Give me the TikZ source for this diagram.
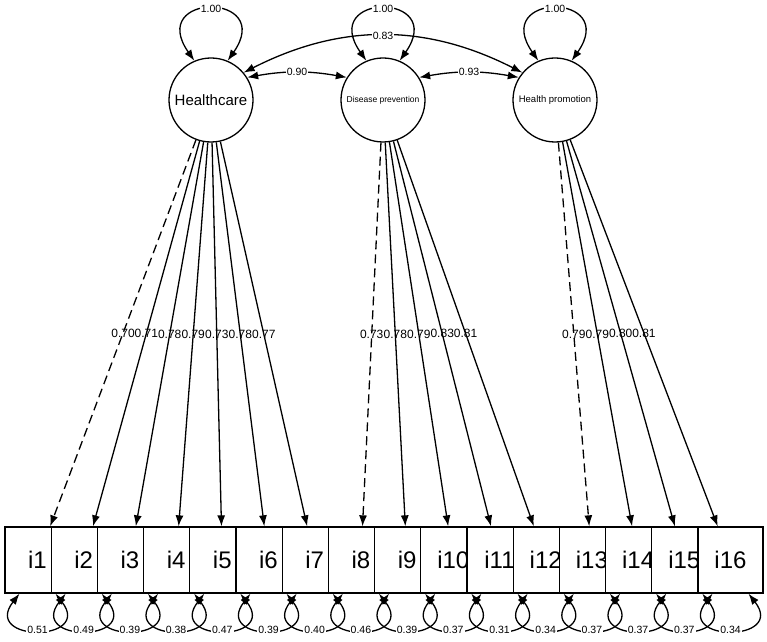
\documentclass[tikz,border=0pt]{standalone}
\usepackage{fontspec}
\setmainfont{Liberation Sans}
\usetikzlibrary{arrows.meta}

\begin{document}
\begin{tikzpicture}[x=1pt,y=1pt,line width=1.3pt,>={Latex[length=11pt,width=8pt]},
    latente/.style={draw,circle,minimum size=84pt,inner sep=0pt},
    item/.style={draw,fill=white,minimum width=65pt,minimum height=66pt,inner sep=0pt,font=\fontsize{24}{24}\selectfont},
    carga/.style={inner sep=0pt,font=\fontsize{12}{12}\selectfont},
    valor/.style={fill=white,inner sep=1pt,font=\fontsize{10.5}{10.5}\selectfont},
    tracejado/.style={dash pattern=on 9pt off 5pt}]
    \useasboundingbox (0,0) rectangle (767,641);

    % Fatores latentes
    \node[latente,font=\fontsize{15}{15}\selectfont] (hc) at (211,541) {Healthcare};
    \node[latente,font=\fontsize{8.5}{8.5}\selectfont] (dp) at (383,541) {Disease prevention};
    \node[latente,font=\fontsize{9.5}{9.5}\selectfont] (hp) at (555,541) {Health promotion};

    % Itens
    \foreach \k in {1,...,16}
        \node[item] (i\k) at ({37.5+46.2*(\k-1)},81) {i\k};

    % Variancias dos fatores
    \draw[<->] (hc.113) .. controls +(125:84) and +(55:84) .. node[valor]{1.00} (hc.67);
    \draw[<->] (dp.113) .. controls +(125:84) and +(55:84) .. node[valor]{1.00} (dp.67);
    \draw[<->] (hp.113) .. controls +(125:84) and +(55:84) .. node[valor]{1.00} (hp.67);

    % Covariancias
    \draw[<->] (hc.40) to[bend left=27] node[valor]{0.83} (hp.140);
    \draw[<->] (hc.32) to[bend left=10] node[valor]{0.90} (dp.148);
    \draw[<->] (dp.32) to[bend left=10] node[valor]{0.93} (hp.148);

    % Cargas - Healthcare
    \draw[->,tracejado] (hc) -- node[carga]{0.70} (i1);
    \draw[->] (hc) -- node[carga]{0.71} (i2);
    \draw[->] (hc) -- node[carga]{0.78} (i3);
    \draw[->] (hc) -- node[carga]{0.79} (i4);
    \draw[->] (hc) -- node[carga]{0.73} (i5);
    \draw[->] (hc) -- node[carga]{0.78} (i6);
    \draw[->] (hc) -- node[carga]{0.77} (i7);
    % Cargas - Disease prevention
    \draw[->,tracejado] (dp) -- node[carga]{0.73} (i8);
    \draw[->] (dp) -- node[carga]{0.78} (i9);
    \draw[->] (dp) -- node[carga]{0.79} (i10);
    \draw[->] (dp) -- node[carga]{0.83} (i11);
    \draw[->] (dp) -- node[carga]{0.81} (i12);
    % Cargas - Health promotion
    \draw[->,tracejado] (hp) -- node[carga]{0.79} (i13);
    \draw[->] (hp) -- node[carga]{0.79} (i14);
    \draw[->] (hp) -- node[carga]{0.80} (i15);
    \draw[->] (hp) -- node[carga]{0.81} (i16);

    % Residuos
    \foreach \k/\v in {1/0.51,2/0.49,3/0.39,4/0.38,5/0.47,6/0.39,7/0.40,8/0.46,
                       9/0.39,10/0.37,11/0.31,12/0.34,13/0.37,14/0.37,15/0.37,16/0.34}
        \draw[<->] ([xshift=-18pt]i\k.south) .. controls +(232:62) and +(308:62) .. node[valor]{\v} ([xshift=18pt]i\k.south);
\end{tikzpicture}
\end{document}
